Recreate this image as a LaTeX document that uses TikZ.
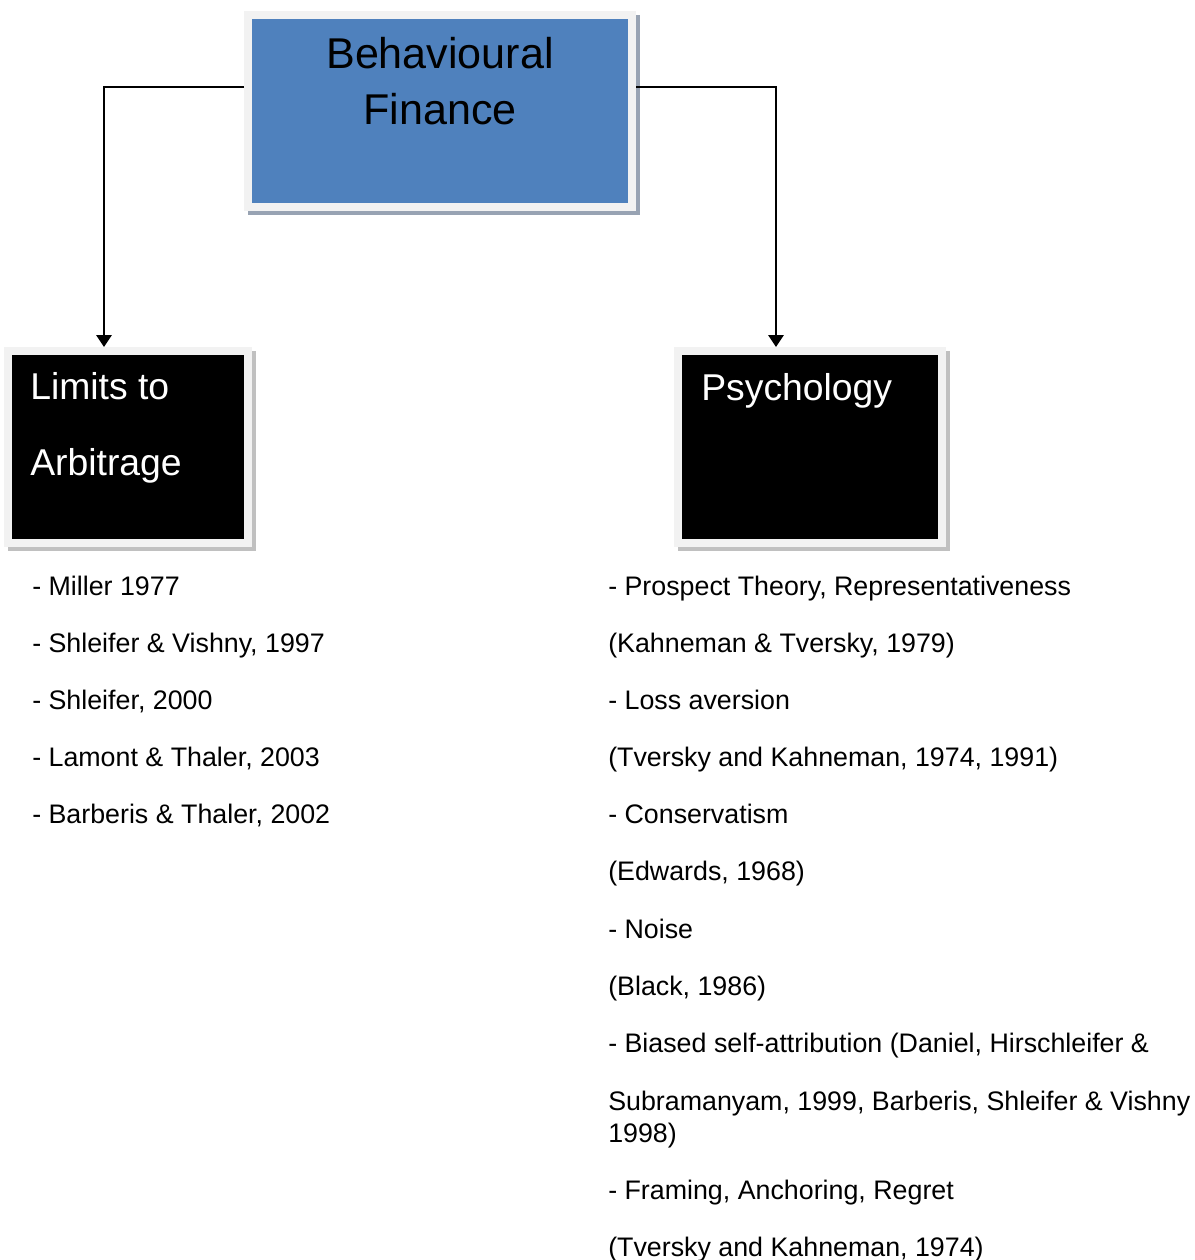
\documentclass[tikz,border=0pt]{standalone}
\usepackage{fontspec}
\setmainfont{Liberation Sans}
\usepackage{xcolor}
\usetikzlibrary{arrows.meta, positioning}
\definecolor{bfblue}{HTML}{4F81BD}
\definecolor{framegray}{HTML}{F2F2F2}
\definecolor{blueshadow}{HTML}{98A3B3}
\definecolor{greyshadow}{HTML}{C0C0C0}

\tikzset{
  box/.style={draw=framegray, line width=6pt, minimum height=144pt, inner sep=0pt},
  topbox/.style={box, fill=bfblue, minimum width=288pt,
    preaction={draw=blueshadow, fill=blueshadow, line width=6pt, transform canvas={xshift=3pt, yshift=-3pt}}},
  darkbox/.style={box, fill=black,
    preaction={draw=greyshadow, fill=greyshadow, line width=6pt, transform canvas={xshift=3pt, yshift=-3pt}}},
  conn/.style={line width=1.6pt, -{Triangle[width=11.5pt, length=9pt]}},
  boxtext/.style={anchor=base west, inner sep=0pt, white, align=left, font=\fontsize{28pt}{57pt}\selectfont},
  entry/.style={anchor=base west, inner sep=0pt, font=\fontsize{20.1pt}{24pt}\selectfont},
}

\begin{document}
\begin{tikzpicture}[x=0.75pt, y=-0.75pt]
        \useasboundingbox (0,0) rectangle (1195,1260);
        % boxes
        \node[topbox] (bf) at (440,111) {};
        \node[darkbox, minimum width=180pt] (lta) at (128,447) {};
        \node[darkbox, minimum width=198pt] (psy) at (810,447) {};
        % box labels (base = last line)
        \node[align=center, anchor=base, inner sep=0pt, font=\fontsize{32.3pt}{42pt}\selectfont] (bftext) at (440,124) {Behavioural\\Finance};
        \node[boxtext] (ltatext) at (30,475) {Limits to\\Arbitrage};
        \node[boxtext] (psytext) at (701,400) {Psychology};
        % connectors
        \draw[conn] ([yshift=18pt]bf.west) -| ([xshift=-18pt]lta.north);
        \draw[conn] ([yshift=18pt]bf.east) -| ([xshift=-25.5pt]psy.north);
        % references
        \foreach \yb/\txt [count=\i] in {595/{- Miller 1977}, 652/{- Shleifer \& Vishny, 1997},
            709/{- Shleifer, 2000}, 766/{- Lamont \& Thaler, 2003}, 823/{- Barberis \& Thaler, 2002}}
            \node[entry] (arb\i) at (32,\yb) {\txt};
        \foreach \yb/\txt [count=\i] in {595/{- Prospect Theory, Representativeness},
            652/{(Kahneman \& Tversky, 1979)}, 709/{- Loss aversion},
            766/{(Tversky and Kahneman, 1974, 1991)}, 823/{- Conservatism},
            880/{(Edwards, 1968)}, 938/{- Noise}, 995/{(Black, 1986)},
            1052/{- Biased self-attribution (Daniel, Hirschleifer \&},
            1110/{Subramanyam, 1999, Barberis, Shleifer \& Vishny}, 1142/{1998)},
            1199/{- Framing, Anchoring, Regret}, 1256/{(Tversky and Kahneman, 1974)}}
            \node[entry] (beh\i) at (608,\yb) {\txt};
\end{tikzpicture}
\end{document}
